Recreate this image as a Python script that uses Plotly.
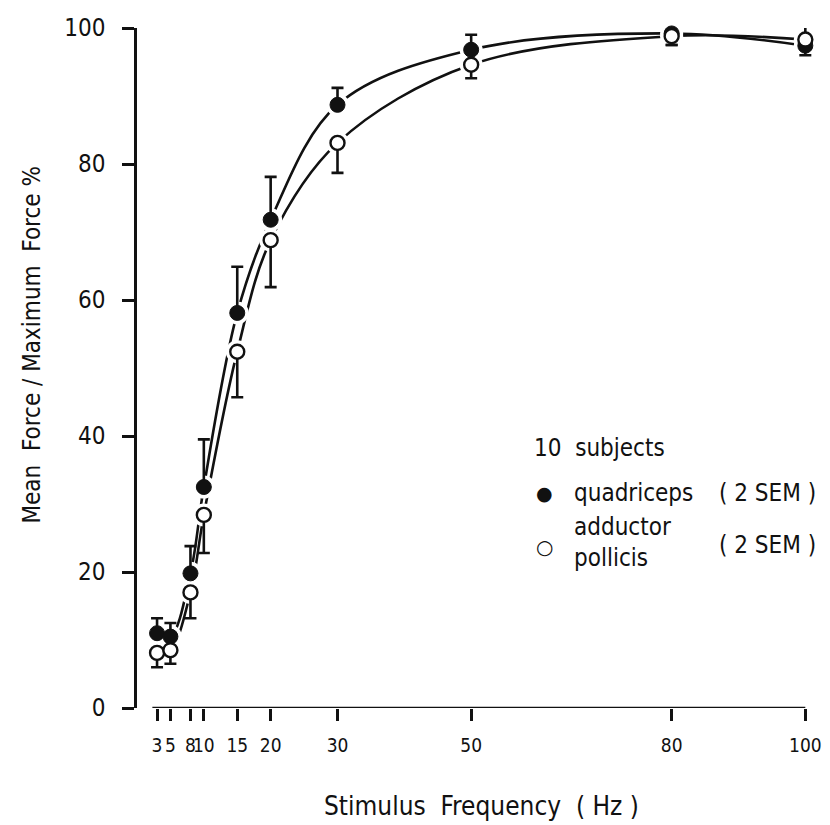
import plotly.graph_objects as go

# ---- data ----
freq = [3, 5, 8, 10, 15, 20, 30, 50, 80, 100]
tick_vals = [3, 5, 8, 10, 15, 20, 30, 50, 80, 100]
tick_text = ["3", "5", "8", "10", "15", "20", "30", "50", "80", "100"]

quad = [11.0, 10.5, 19.8, 32.5, 58.1, 71.8, 88.7, 96.8, 99.2, 97.4]
quad_err_up = [2.2, 2.0, 4.0, 7.0, 6.8, 6.3, 2.5, 2.2, 1.5, 0.0]
quad_err_down = [0, 0, 0, 0, 0, 0, 0, 0, 1.7, 1.4]

addp = [8.1, 8.5, 17.0, 28.4, 52.4, 68.8, 83.1, 94.6, 98.8, 98.3]
addp_err_up = [0, 0, 0, 0, 0, 0, 0, 0, 0, 2.2]
addp_err_down = [2.1, 2.0, 3.8, 5.6, 6.7, 6.9, 4.4, 2.0, 1.3, 0.0]

FONT = "DejaVu Sans Condensed, Liberation Sans Narrow, Liberation Sans, sans-serif"
BLACK = "#111111"

fig = go.Figure()

# fitted curves
for ys in (quad, addp):
    fig.add_trace(go.Scatter(x=freq, y=ys, mode="lines",
                             line=dict(color=BLACK, width=2.6, shape="spline", smoothing=1.0),
                             hoverinfo="skip", showlegend=False, cliponaxis=False))

# white halos that break the curves near the symbols
for ys in (quad, addp):
    fig.add_trace(go.Scatter(x=freq, y=ys, mode="markers",
                             marker=dict(color="white", size=23, line=dict(width=0)),
                             hoverinfo="skip", showlegend=False, cliponaxis=False))

# quadriceps (filled)
fig.add_trace(go.Scatter(
    x=freq, y=quad, mode="markers", name="quadriceps",
    marker=dict(symbol="circle", size=15, color=BLACK, line=dict(color=BLACK, width=1)),
    error_y=dict(type="data", symmetric=False, array=quad_err_up, arrayminus=quad_err_down,
                 color=BLACK, thickness=2.6, width=6),
    showlegend=False, cliponaxis=False))

# adductor pollicis (open)
fig.add_trace(go.Scatter(
    x=freq, y=addp, mode="markers", name="adductor pollicis",
    marker=dict(symbol="circle", size=14, color="white", line=dict(color=BLACK, width=2.4)),
    error_y=dict(type="data", symmetric=False, array=addp_err_up, arrayminus=addp_err_down,
                 color=BLACK, thickness=2.6, width=6),
    showlegend=False, cliponaxis=False))

# x-axis baseline (starts just before the first frequency, detached from y axis)
fig.add_shape(type="line", xref="x", yref="y", x0=2.3, x1=100, y0=0, y1=0,
              line=dict(color=BLACK, width=2.6))

# legend block as text
legend_font = dict(family=FONT, size=24, color=BLACK)
ann = [
    dict(x=0.585, y=0.382, text="10  subjects", xanchor="left"),
    dict(x=0.604, y=0.316, text="●", xanchor="center", font=dict(family="DejaVu Sans", size=19, color=BLACK)),
    dict(x=0.644, y=0.316, text="quadriceps", xanchor="left"),
    dict(x=0.859, y=0.316, text="( 2 SEM )", xanchor="left"),
    dict(x=0.604, y=0.237, text="○", xanchor="center", font=dict(family="DejaVu Sans", size=20, color=BLACK)),
    dict(x=0.644, y=0.244, text="adductor<br>pollicis", xanchor="left", align="left"),
    dict(x=0.859, y=0.240, text="( 2 SEM )", xanchor="left"),
    # axis titles
    dict(x=0.510, y=-0.144, text="Stimulus\u00a0\u00a0Frequency\u00a0\u00a0( Hz )", xanchor="center",
         font=dict(family=FONT, size=26, color=BLACK)),
    dict(x=-0.156, y=0.534, text="Mean\u00a0\u00a0Force / Maximum\u00a0\u00a0Force %", xanchor="center",
         textangle=-90, font=dict(family=FONT, size=24, color=BLACK)),
]
for a in ann:
    a.setdefault("font", legend_font)
    a.update(xref="paper", yref="paper", showarrow=False, yanchor="middle")
fig.update_layout(annotations=ann)

# the page body adds an 8 px offset, so the figure is 8 px smaller with shifted margins
fig.update_layout(
    width=822, height=817,
    margin=dict(l=129, r=18, t=20, b=117),
    paper_bgcolor="white", plot_bgcolor="white",
    showlegend=False,
    xaxis=dict(range=[0, 101], tickmode="array", tickvals=tick_vals, ticktext=tick_text,
               tickangle=0, automargin=False, showgrid=False, zeroline=False, showline=False,
               ticks="outside", ticklen=12, tickwidth=2.6, tickcolor=BLACK,
               ticklabelstandoff=8,
               tickfont=dict(family=FONT, size=19, color=BLACK)),
    yaxis=dict(range=[0, 100], tickvals=[0, 20, 40, 60, 80, 100], automargin=False,
               showgrid=False, zeroline=False, showline=True, linecolor=BLACK, linewidth=2.6,
               ticks="outside", ticklen=12, tickwidth=2.6, tickcolor=BLACK,
               ticklabelstandoff=12,
               tickfont=dict(family=FONT, size=24, color=BLACK)),
)

fig.write_html("out.html")
